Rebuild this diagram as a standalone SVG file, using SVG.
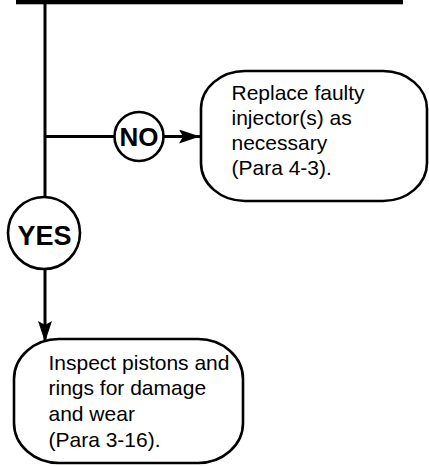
<svg xmlns="http://www.w3.org/2000/svg" width="429" height="466" viewBox="0 0 429 466">
<style>
.ln{stroke:#000;stroke-width:3;fill:none}
.box{stroke:#000;stroke-width:2.6;fill:#fff}
.dec{stroke:#000;stroke-width:2.6;fill:#fff}
.t{font-family:"Liberation Sans",Arial,sans-serif;font-size:21px;fill:#000}
.d{font-family:"Liberation Sans",Arial,sans-serif;font-weight:bold;fill:#000;text-anchor:middle}
</style>
<defs>
<marker id="ah" markerUnits="userSpaceOnUse" markerWidth="23" markerHeight="15" refX="21" refY="7" orient="auto">
<path d="M0,0 L21,7 L0,14 L4,7 z" fill="#000"/>
</marker>
</defs>
<rect x="16" y="0" width="387" height="4.3" fill="#000"/>
<g id="connectors">
<line class="ln" x1="45" y1="2" x2="45" y2="342" marker-end="url(#ah)"/>
<line class="ln" x1="45" y1="136.5" x2="115" y2="136.5"/>
<line class="ln" x1="163" y1="136.5" x2="200" y2="136.5" marker-end="url(#ah)"/>
</g>
<g id="no">
<circle class="dec" cx="139" cy="136.5" r="24.5"/>
<text class="d" x="139" y="146" font-size="26">NO</text>
</g>
<g id="yes">
<circle class="dec" cx="44" cy="233" r="36"/>
<text class="d" x="44.5" y="245" font-size="27">YES</text>
</g>
<g id="replace">
<rect class="box" x="201" y="71" width="226" height="130" rx="44" ry="38"/>
<text class="t" x="231.5" y="99.5">Replace faulty</text>
<text class="t" x="231.5" y="124.5">injector(s) as</text>
<text class="t" x="231.5" y="149.5">necessary</text>
<text class="t" x="231.5" y="174.5">(Para 4-3).</text>
</g>
<g id="inspect">
<rect class="box" x="14" y="339" width="229" height="124" rx="45" ry="40"/>
<text class="t" x="48.5" y="369.5">Inspect pistons and</text>
<text class="t" x="48.5" y="395.2">rings for damage</text>
<text class="t" x="48.5" y="420.9">and wear</text>
<text class="t" x="48.5" y="446.6">(Para 3-16).</text>
</g>
</svg>
